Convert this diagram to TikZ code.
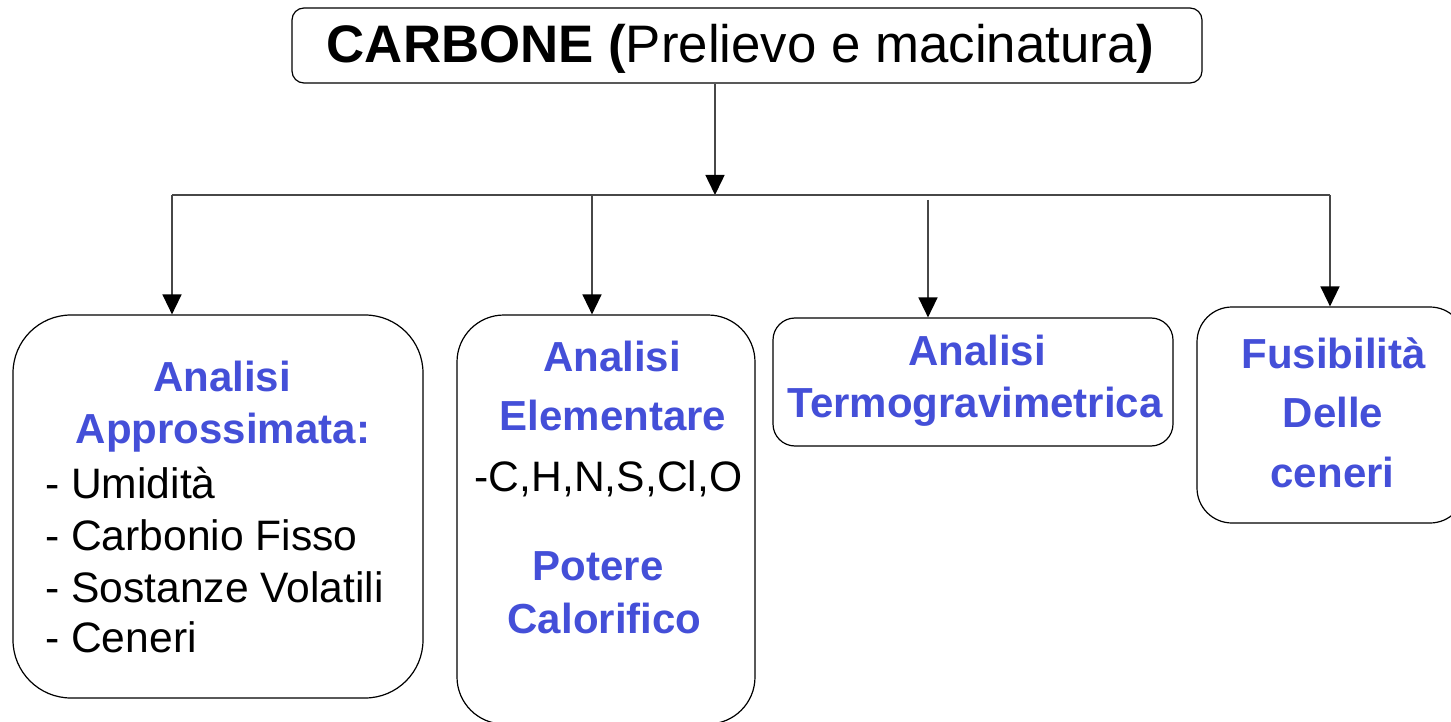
\documentclass[tikz,border=0pt]{standalone}
\usepackage{fontspec}
\setmainfont{Liberation Sans}
\usetikzlibrary{arrows.meta}
\definecolor{tblue}{RGB}{68,79,216}
\begin{document}
\begin{tikzpicture}[x=1pt,y=-1pt,
  box/.style={draw=black, line width=1.2pt, fill=white, rectangle, inner sep=0pt},
  conn/.style={draw=black!72, line width=1.5pt},
  arr/.style={conn, -{Triangle[length=20pt,width=19pt,color=black,fill=black]}},
  bl/.style={text=tblue, font=\fontsize{42}{50}\selectfont\bfseries, anchor=base, inner sep=0pt},
  tx/.style={text=black, font=\fontsize{42.6}{50}\selectfont, anchor=base west, inner sep=0pt}]
\useasboundingbox (0,0) rectangle (1451,722);
% boxes
\node[box, minimum width=910pt, minimum height=75pt, rounded corners=12pt] (top) at (747,45.5) {};
\node[anchor=base, inner sep=0pt, font=\fontsize{52.8}{60}\selectfont] (toptxt) at (740.5,63) {\textbf{CARBONE (}Prelievo e macinatura\textbf{)}};
\node[box, minimum width=410pt, minimum height=383pt, rounded corners=58pt] (b1) at (218,506.5) {};
\node[box, minimum width=298pt, minimum height=409pt, rounded corners=47pt] (b2) at (606,519.5) {};
\node[box, minimum width=400pt, minimum height=128pt, rounded corners=22pt] (b3) at (973,382) {};
\node[box, minimum width=268pt, minimum height=216pt, rounded corners=35pt] (b4) at (1331,415) {};
% texts box 1
\node[bl] (t1a) at (222,391) {Analisi};
\node[bl] (t1b) at (223,443) {Approssimata:};
\node[tx] (t1c) at (45,498) {- Umidità};
\node[tx] (t1d) at (45,550) {- Carbonio Fisso};
\node[tx] (t1e) at (45,602) {- Sostanze Volatili};
\node[tx] (t1f) at (45,652) {- Ceneri};
% texts box 2
\node[bl] (t2a) at (612,371) {Analisi};
\node[bl] (t2b) at (613,430) {Elementare};
\node[tx, anchor=base] (t2c) at (608.5,491) {-C,H,N,S,Cl,O};
\node[bl] (t2d) at (598,580) {Potere};
\node[bl] (t2e) at (604.5,633) {Calorifico};
% texts box 3
\node[bl] (t3a) at (977,365) {Analisi};
\node[bl] (t3b) at (975,417) {Termogravimetrica};
% texts box 4
\node[bl] (t4a) at (1333.5,368) {Fusibilità};
\node[bl] (t4b) at (1333,427) {Delle};
\node[bl] (t4c) at (1332.5,487) {ceneri};
% connectors
\coordinate (j) at (715,195);
\coordinate (hl) at (172,195);
\coordinate (hr) at (1330,195);
\coordinate (h2) at (592,195);
\coordinate (s3) at (928,200);
\draw[arr] (top.south -| j) -- (j);
\draw[conn] (hl) -- (hr);
\draw[arr] (hl) -- (b1.north -| hl);
\draw[arr] (h2) -- (b2.north -| h2);
\draw[arr] (s3) -- (b3.north -| s3);
\draw[arr] (hr) -- (b4.north -| hr);
\end{tikzpicture}
\end{document}
